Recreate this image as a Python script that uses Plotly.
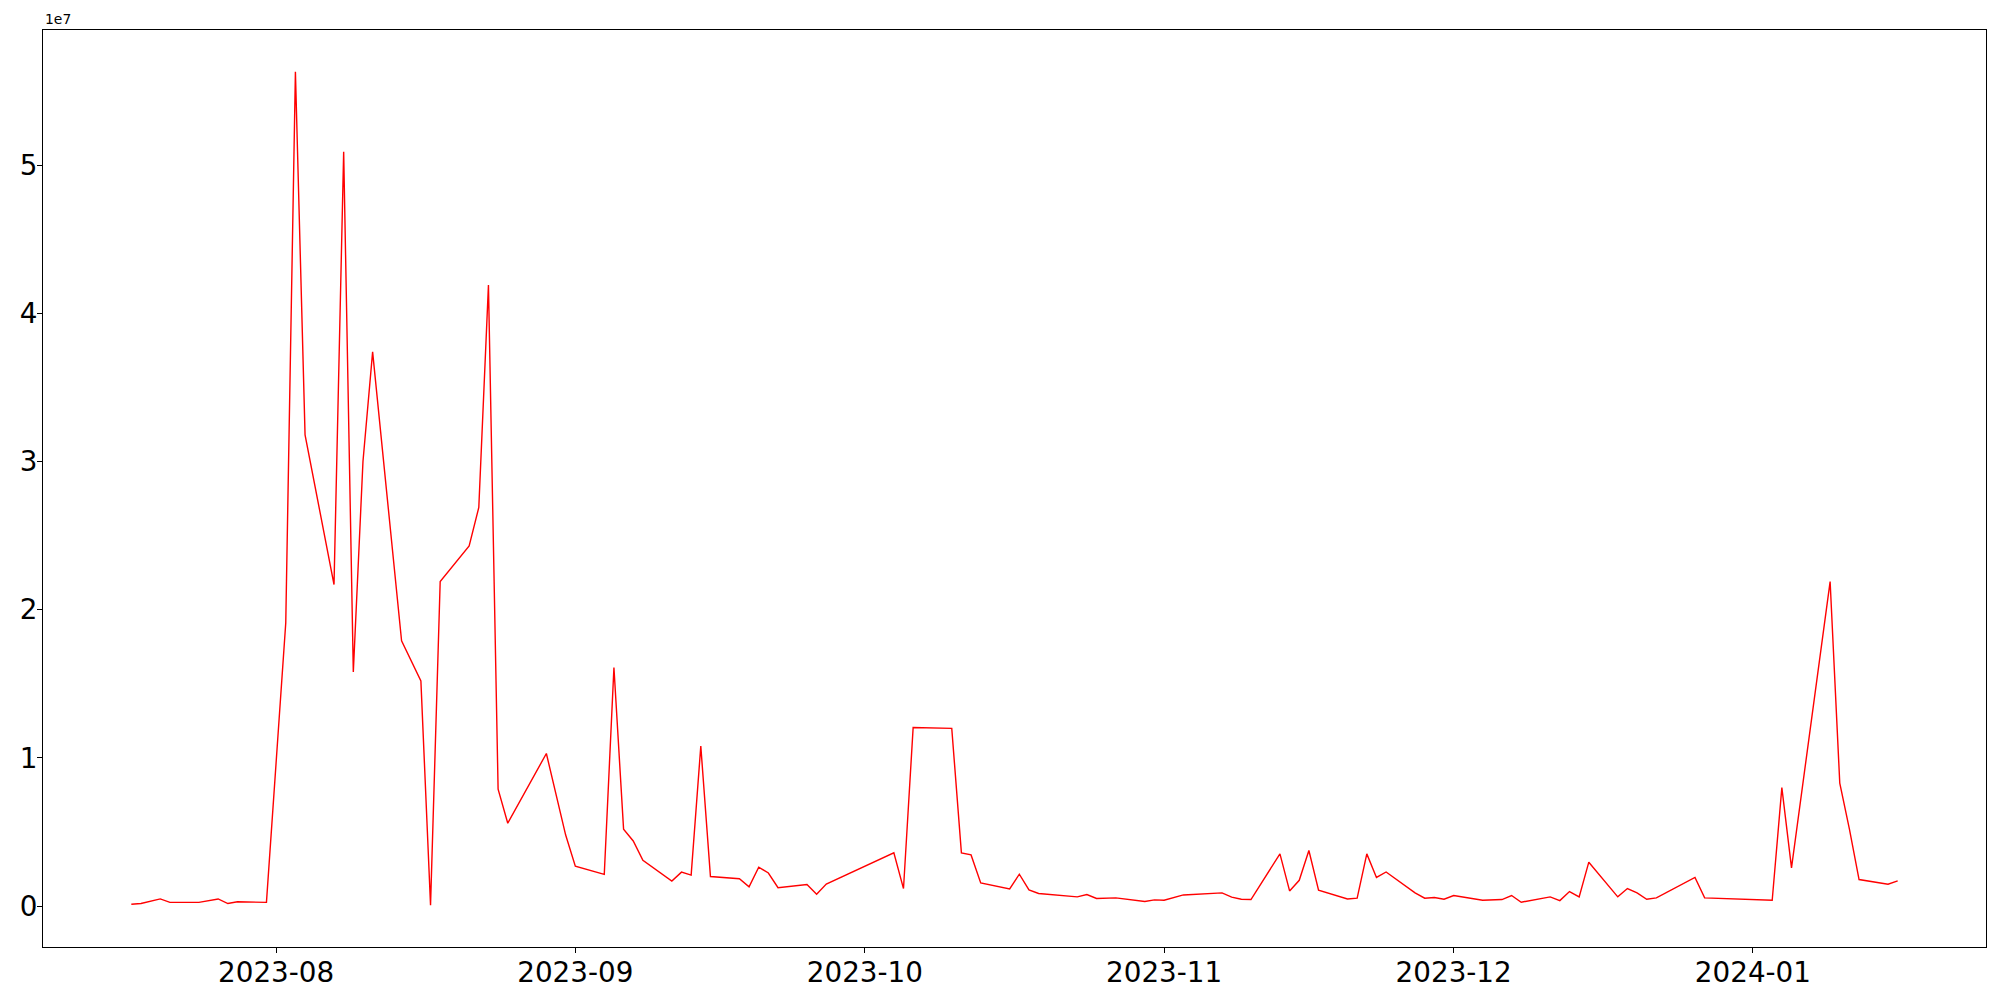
import pandas as pd
import plotly.graph_objects as go

dates = [
    "2023-07-17", "2023-07-18", "2023-07-20", "2023-07-21", "2023-07-24", "2023-07-26", "2023-07-27", "2023-07-28", "2023-07-31",
    "2023-08-02", "2023-08-03", "2023-08-04", "2023-08-07", "2023-08-08", "2023-08-09", "2023-08-10", "2023-08-11", "2023-08-14",
    "2023-08-16", "2023-08-17", "2023-08-18", "2023-08-21", "2023-08-22", "2023-08-23", "2023-08-24", "2023-08-25", "2023-08-29",
    "2023-08-31",
    "2023-09-01", "2023-09-04", "2023-09-05", "2023-09-06", "2023-09-07", "2023-09-08", "2023-09-11", "2023-09-12", "2023-09-13",
    "2023-09-14", "2023-09-15", "2023-09-18", "2023-09-19", "2023-09-20", "2023-09-21", "2023-09-22", "2023-09-25", "2023-09-26",
    "2023-09-27",
    "2023-10-04", "2023-10-05", "2023-10-06", "2023-10-10", "2023-10-11", "2023-10-12", "2023-10-13", "2023-10-16", "2023-10-17",
    "2023-10-18", "2023-10-19", "2023-10-23", "2023-10-24", "2023-10-25", "2023-10-27", "2023-10-30", "2023-10-31",
    "2023-11-01", "2023-11-03", "2023-11-07", "2023-11-08", "2023-11-09", "2023-11-10", "2023-11-13", "2023-11-14", "2023-11-15",
    "2023-11-16", "2023-11-17", "2023-11-20", "2023-11-21", "2023-11-22", "2023-11-23", "2023-11-24", "2023-11-27", "2023-11-28",
    "2023-11-29", "2023-11-30",
    "2023-12-01", "2023-12-04", "2023-12-06", "2023-12-07", "2023-12-08", "2023-12-11", "2023-12-12", "2023-12-13", "2023-12-14",
    "2023-12-15", "2023-12-18", "2023-12-19", "2023-12-20", "2023-12-21", "2023-12-22", "2023-12-26", "2023-12-27",
    "2024-01-02", "2024-01-03", "2024-01-04", "2024-01-05", "2024-01-09", "2024-01-10", "2024-01-11", "2024-01-12", "2024-01-15",
    "2024-01-16",
]

values_millions = [
    0.13, 0.18, 0.49, 0.26, 0.26, 0.49, 0.18, 0.30, 0.26,
    19.1, 56.3, 31.8, 21.7, 50.9, 15.8, 30.0, 37.4, 17.9, 15.2, 0.06, 21.9, 24.3, 26.9, 41.9, 7.9, 5.6, 10.3, 4.8,
    2.7, 2.15, 16.1, 5.2, 4.4, 3.1, 1.7, 2.3, 2.1, 10.8, 2.0, 1.85, 1.31, 2.63, 2.24, 1.25, 1.46, 0.8, 1.49,
    3.6, 1.19, 12.06, 12.0, 3.6, 3.46, 1.57, 1.17, 2.16, 1.1, 0.86, 0.63, 0.79, 0.52, 0.56, 0.32, 0.43,
    0.4, 0.76, 0.9, 0.61, 0.47, 0.45, 3.53, 1.03, 1.75, 3.76, 1.08, 0.49, 0.54, 3.53, 1.94, 2.31, 0.9, 0.54, 0.59, 0.47,
    0.72, 0.4, 0.45, 0.72, 0.27, 0.63, 0.38, 0.99, 0.63, 2.97, 0.63, 1.19, 0.9, 0.47, 0.56, 1.94, 0.56,
    0.4, 0.4, 8.0, 2.59, 21.9, 8.3, 5.2, 1.8, 1.48, 1.71,
]

x_tick_dates = ["2023-08-01", "2023-09-01", "2023-10-01", "2023-11-01", "2023-12-01", "2024-01-01"]
x_tick_labels = ["2023-08", "2023-09", "2023-10", "2023-11", "2023-12", "2024-01"]
y_tick_values = [0, 1e7, 2e7, 3e7, 4e7, 5e7]
y_tick_labels = ["0", "1", "2", "3", "4", "5"]
offset_label = "1e7"

x = pd.to_datetime(dates)
y = [v * 1e6 for v in values_millions]

# matplotlib-like 5% margins
span = x.max() - x.min()
x_range = [x.min() - span * 0.05, x.max() + span * 0.05]
yr = max(y) - min(y)
y_range = [min(y) - 0.05 * yr, max(y) + 0.05 * yr]

font_family = "DejaVu Sans"

fig = go.Figure()
fig.add_trace(go.Scatter(x=x, y=y, mode="lines", line=dict(color="red", width=1.4), showlegend=False))

axis_common = dict(
    showline=True, mirror=True, linecolor="black", linewidth=1.1,
    showgrid=False, zeroline=False, automargin=False,
    ticks="outside", ticklen=5, tickwidth=1.1, tickcolor="black",
    tickfont=dict(family=font_family, size=27.8, color="black"),
)

fig.update_xaxes(
    type="date", range=x_range,
    tickmode="array", tickvals=pd.to_datetime(x_tick_dates), ticktext=x_tick_labels,
    ticklabelstandoff=-4,
    **axis_common,
)
fig.update_yaxes(
    range=y_range,
    tickmode="array", tickvals=y_tick_values, ticktext=y_tick_labels,
    ticklabelstandoff=-6,
    **axis_common,
)

fig.add_annotation(
    text=offset_label, xref="paper", yref="paper", x=0, y=1,
    xanchor="left", yanchor="bottom", showarrow=False, yshift=1,
    font=dict(family=font_family, size=13.9, color="black"),
)

# page body has an 8px default margin; size/margins compensate for it
fig.update_layout(
    width=1992, height=992,
    margin=dict(l=35, r=14, t=22, b=53, autoexpand=False),
    paper_bgcolor="white", plot_bgcolor="white",
    font=dict(family=font_family, color="black"),
)

fig.write_html("out.html")
